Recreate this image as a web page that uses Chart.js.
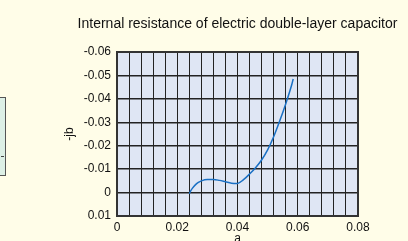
<!DOCTYPE html>
<html>
<head>
<meta charset="utf-8">
<script src="https://cdn.jsdelivr.net/npm/chart.js@4"></script>
<style>
  html, body { margin: 0; padding: 0; background: #fffde8; overflow: hidden; }
  #wrap { position: relative; width: 408px; height: 241px; }
  #legendBox {
    position: absolute; left: -100px; top: 97px; width: 104px; height: 77px;
    background: #ddf0e6; border: 1px solid #555;
  }
  #legendBox span {
    position: absolute; right: 1px; top: 58px; width: 3px; height: 1px; background: #444;
  }
</style>
</head>
<body>
<div id="wrap">
  <div id="legendBox"><span></span></div>
  <canvas id="chart" width="408" height="241"></canvas>
</div>
<script>
// dados
const chartTitle = 'Internal resistance of electric double-layer capacitor';
const xLabel = 'a';
const yLabel = '-jb';
const aValues = [0.024, 0.0245, 0.025, 0.026, 0.027, 0.028, 0.030, 0.032, 0.034, 0.036, 0.038,
                 0.040, 0.042, 0.044, 0.046, 0.048, 0.050, 0.052, 0.054, 0.056, 0.058, 0.0585];
const jbValues = [0.0005, -0.0008, -0.0018, -0.0033, -0.0043, -0.0050, -0.0056, -0.0056, -0.0052,
                  -0.0046, -0.0040, -0.0039, -0.0055, -0.0079, -0.0106, -0.0139, -0.0182, -0.0238,
                  -0.0305, -0.0378, -0.0460, -0.0485];
const xTickLabels = ['0', '0.02', '0.04', '0.06', '0.08'];

const pontos = aValues.map((a, i) => ({ x: a, y: jbValues[i] }));
const fonte = 'Liberation Sans, Arial, Helvetica, sans-serif';

// fundo da área, moldura e textos
const decoracao = {
  id: 'decoracao',
  beforeDraw(chart) {
    const { ctx, chartArea: c } = chart;
    ctx.save();
    ctx.fillStyle = '#dfe6f4';
    ctx.fillRect(c.left, c.top, c.right - c.left, c.bottom - c.top);
    ctx.restore();
  },
  afterDraw(chart) {
    const { ctx, chartArea: c } = chart;
    ctx.save();
    ctx.strokeStyle = '#333';
    ctx.lineWidth = 2;
    ctx.strokeRect(c.left, c.top, c.right - c.left, c.bottom - c.top);

    ctx.fillStyle = '#111';
    ctx.textAlign = 'center';
    ctx.textBaseline = 'middle';
    ctx.font = '14px ' + fonte;
    ctx.fillText(chartTitle, (c.left + c.right) / 2, 24);

    ctx.font = '12px ' + fonte;
    ctx.fillText(xLabel, (c.left + c.right) / 2, 239);

    ctx.translate(70, (c.top + c.bottom) / 2);
    ctx.rotate(-Math.PI / 2);
    ctx.fillText(yLabel, 0, 0);
    ctx.restore();
  }
};

new Chart(document.getElementById('chart'), {
  type: 'scatter',
  data: {
    datasets: [{
      data: pontos,
      showLine: true,
      borderColor: '#1a70c4',
      borderWidth: 1.5,
      pointRadius: 0,
      cubicInterpolationMode: 'monotone'
    }]
  },
  options: {
    responsive: false,
    animation: false,
    layout: { padding: { left: 0, right: 50, top: 52, bottom: 0 } },
    plugins: { legend: { display: false }, tooltip: { enabled: false } },
    scales: {
      x: {
        type: 'linear',
        min: 0,
        max: 0.08,
        afterFit: s => { s.height = 25; },
        afterBuildTicks: s => {
          s.ticks = [];
          for (let i = 0; i <= 20; i++) s.ticks.push({ value: i * 0.004 });
        },
        ticks: {
          autoSkip: false,
          maxRotation: 0,
          padding: 4,
          color: '#111',
          font: { family: fonte, size: 12 },
          callback: (v, i) => (i % 5 === 0 ? xTickLabels[i / 5] : '')
        },
        grid: { color: '#222', lineWidth: 1, drawTicks: false },
        border: { display: false }
      },
      y: {
        type: 'linear',
        min: -0.06,
        max: 0.01,
        reverse: true,
        afterFit: s => { s.width = 117; },
        ticks: {
          stepSize: 0.01,
          padding: 6,
          color: '#111',
          font: { family: fonte, size: 12 },
          callback: v => String(Number(v.toFixed(2)))
        },
        grid: { color: '#222', lineWidth: 1.5, drawTicks: false },
        border: { display: false }
      }
    }
  },
  plugins: [decoracao]
});
</script>
</body>
</html>
